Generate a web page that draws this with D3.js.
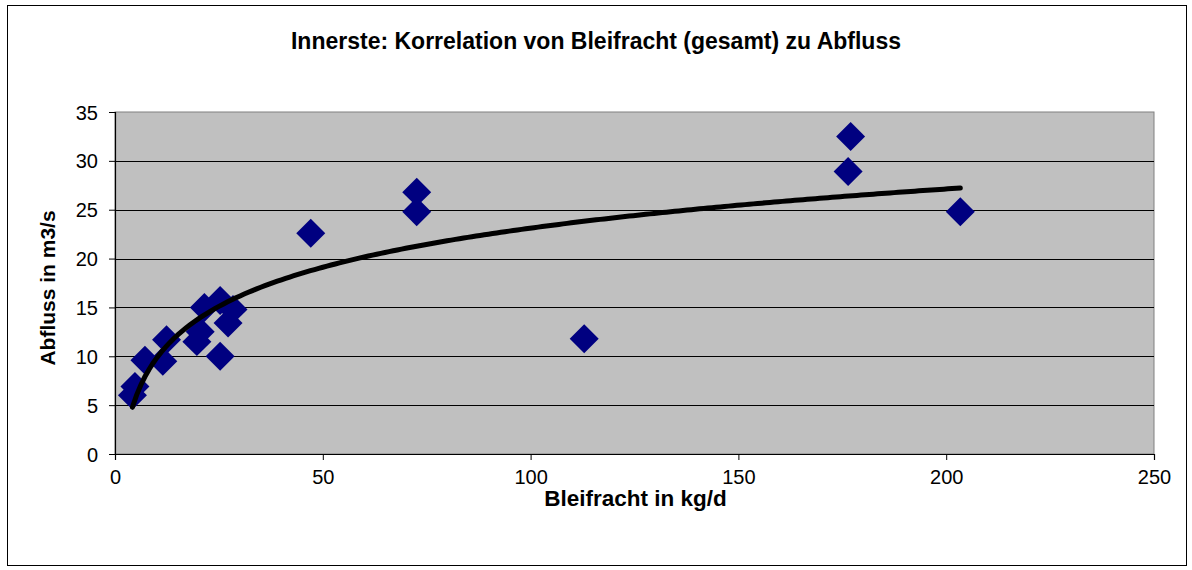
<!DOCTYPE html>
<html>
<head>
<meta charset="utf-8">
<script src="https://cdn.jsdelivr.net/npm/d3@7"></script>
<style>
  body { margin: 0; background: #fff; }
  svg text { font-family: "Liberation Sans", Arial, sans-serif; fill: #000; }
</style>
</head>
<body>
<svg id="chart"></svg>
<script>
(function() {

  const title = 'Innerste: Korrelation von Bleifracht (gesamt) zu Abfluss';
  const xTitle = 'Bleifracht in kg/d';
  const yTitle = 'Abfluss in m3/s';

  // Bleifracht (kg/d) and Abfluss (m3/s)
  const bleifracht = [4.8, 4.2, 7.2, 11.5, 12.4, 19.7, 20.5, 21.5, 25.3, 27.2, 28.4, 25.3, 47.1, 72.6, 72.6, 112.9, 176.4, 177.0, 203.4];
  const abfluss = [6.9, 6.0, 9.6, 9.5, 11.7, 11.5, 12.5, 15.0, 15.7, 13.4, 14.8, 10.0, 22.6, 26.8, 24.8, 11.8, 28.9, 32.5, 24.8];

  const xTicks = [0, 50, 100, 150, 200, 250];
  const yTicks = [0, 5, 10, 15, 20, 25, 30, 35];

  const width = 1192;
  const height = 570;
  const plot = {
    left: 115,
    right: 1154,
    top: 112,
    bottom: 454
  };

  const data = bleifracht.map(function(d, i) {
    return { x: d, y: abfluss[i] };
  });

  const svg = d3.select('#chart')
    .attr('width', width)
    .attr('height', height);

  // outer frame
  svg.append('rect')
    .attr('x', 7.5)
    .attr('y', 5.5)
    .attr('width', 1179)
    .attr('height', 560)
    .attr('fill', '#fff')
    .attr('stroke', '#000')
    .attr('stroke-width', 1);

  const x = d3.scaleLinear().domain([0, 250]).range([plot.left, plot.right]);
  const y = d3.scaleLinear().domain([0, 35]).range([plot.bottom, plot.top]);

  // plot area
  svg.append('rect')
    .attr('x', plot.left)
    .attr('y', plot.top)
    .attr('width', plot.right - plot.left)
    .attr('height', plot.bottom - plot.top)
    .attr('fill', '#c0c0c0')
    .attr('stroke', '#808080')
    .attr('stroke-width', 1);

  // horizontal gridlines
  svg.append('g')
    .attr('class', 'grid')
    .selectAll('line')
    .data(yTicks.filter(function(d) { return d > 0 && d < 35; }))
    .enter()
    .append('line')
    .attr('x1', plot.left)
    .attr('x2', plot.right)
    .attr('y1', function(d) { return Math.round(y(d)) + 0.5; })
    .attr('y2', function(d) { return Math.round(y(d)) + 0.5; })
    .attr('stroke', '#000')
    .attr('stroke-width', 1);

  const xAxis = d3.axisBottom(x).tickValues(xTicks).tickSize(6).tickPadding(5);
  const yAxis = d3.axisLeft(y).tickValues(yTicks).tickSize(6).tickPadding(11);

  const gx = svg.append('g')
    .attr('class', 'x axis')
    .attr('transform', 'translate(0,' + plot.bottom + ')')
    .call(xAxis);

  const gy = svg.append('g')
    .attr('class', 'y axis')
    .attr('transform', 'translate(' + plot.left + ',0)')
    .call(yAxis);

  svg.selectAll('.axis .domain').attr('stroke', '#000').attr('stroke-width', 1.2);
  svg.selectAll('.axis .tick line').attr('stroke', '#000');
  svg.selectAll('.axis .tick text')
    .style('font-size', '20px')
    .attr('fill', '#000');
  gx.selectAll('.tick text').attr('dy', '0.95em');
  gy.selectAll('.tick text').attr('dy', '0.35em');

  // logarithmic trendline (least squares on ln x)
  const lx = bleifracht.map(function(d) { return Math.log(d); });
  const mx = d3.mean(lx);
  const my = d3.mean(abfluss);
  const sxy = d3.sum(lx, function(d, i) { return (d - mx) * (abfluss[i] - my); });
  const sxx = d3.sum(lx, function(d) { return (d - mx) * (d - mx); });
  const slope = sxy / sxx;
  const intercept = my - slope * mx;

  const xExtent = d3.extent(bleifracht);
  const trend = d3.range(0, 201).map(function(i) {
    const xv = xExtent[0] + (xExtent[1] - xExtent[0]) * i / 200;
    return { x: xv, y: slope * Math.log(xv) + intercept };
  });

  // diamonds
  const diamond = d3.symbol().type(d3.symbolSquare).size(420);
  svg.append('g')
    .attr('class', 'points')
    .selectAll('path')
    .data(data)
    .enter()
    .append('path')
    .attr('d', diamond)
    .attr('transform', function(d) {
      return 'translate(' + x(d.x) + ',' + y(d.y) + ') rotate(45)';
    })
    .attr('fill', '#000080');

  svg.append('path')
    .datum(trend)
    .attr('fill', 'none')
    .attr('stroke', '#000')
    .attr('stroke-width', 5)
    .attr('stroke-linecap', 'round')
    .attr('d', d3.line()
      .x(function(d) { return x(d.x); })
      .y(function(d) { return y(d.y); }));

  // titles
  svg.append('text')
    .attr('x', 596)
    .attr('y', 49)
    .attr('text-anchor', 'middle')
    .style('font-size', '23px')
    .style('font-weight', 'bold')
    .text(title);

  svg.append('text')
    .attr('x', (plot.left + plot.right) / 2 + 1)
    .attr('y', 506)
    .attr('text-anchor', 'middle')
    .style('font-size', '22.5px')
    .style('font-weight', 'bold')
    .text(xTitle);

  svg.append('text')
    .attr('transform', 'translate(55,' + ((plot.top + plot.bottom) / 2 + 5) + ') rotate(-90)')
    .attr('text-anchor', 'middle')
    .style('font-size', '21px')
    .style('font-weight', 'bold')
    .text(yTitle);

})();
</script>
</body>
</html>
